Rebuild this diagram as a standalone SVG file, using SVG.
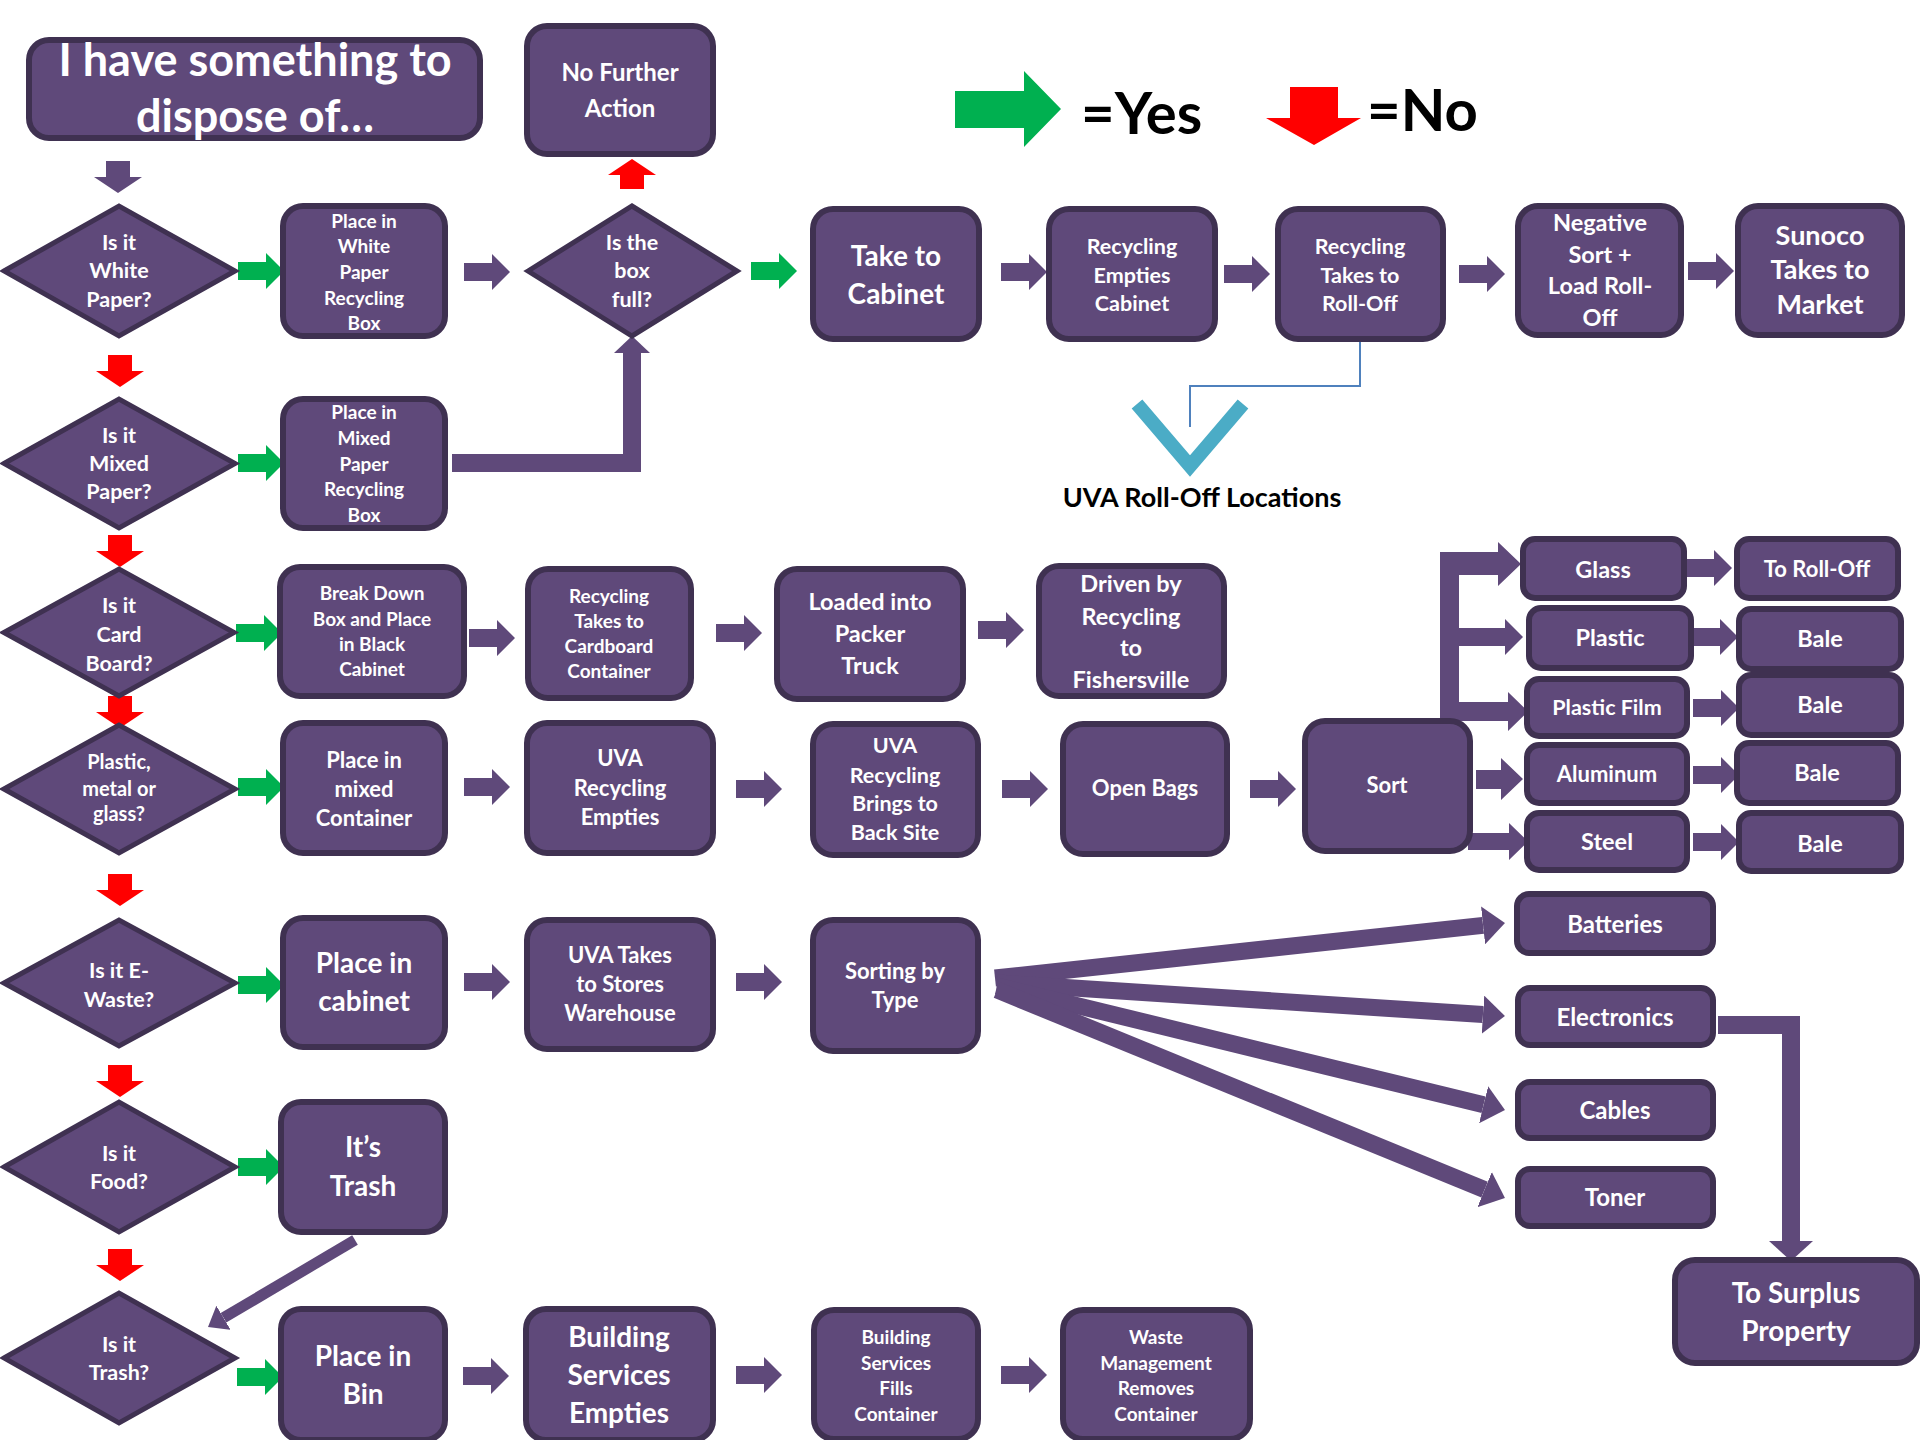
<svg xmlns="http://www.w3.org/2000/svg" xmlns:xlink="http://www.w3.org/1999/xlink" width="1920" height="1440" viewBox="0 0 1920 1440">
<style>
.box{fill:#5F497A;stroke:#3F3151;stroke-width:6}
.dia{fill:#5F497A;stroke:#3F3151;stroke-width:5}
.t{font-family:Lato,"Open Sans","Liberation Sans",sans-serif;font-weight:700;fill:#fff;text-anchor:middle}
.k{font-family:Lato,"Open Sans","Liberation Sans",sans-serif;font-weight:700;fill:#000}
.s19{font-size:19px}.s20{font-size:20px}.s21{font-size:21.5px}.s22{font-size:22px}.s23{font-size:23.5px}.s24{font-size:24px}.s27{font-size:27px}.s28{font-size:28px}
.ar{fill:#5F497A}
.gr{fill:#00B050}
.rd{fill:#FF0000}
.ln{fill:none;stroke:#5F497A}
</style>
<defs>
<path id="pa" d="M0,-9 H28 V-18 L46,0 L28,18 V9 H0 Z"/>
<path id="dn" d="M-12,0 V16 H-24 L0,32 L24,16 H12 V0 Z"/>
<marker id="fh" markerUnits="userSpaceOnUse" markerWidth="22" markerHeight="38" viewBox="0 0 22 38" refX="0" refY="19" orient="auto"><path d="M0,0 L22,19 L0,38 Z" fill="#5F497A"/></marker>
<marker id="th" markerUnits="userSpaceOnUse" markerWidth="18" markerHeight="28" viewBox="0 0 18 28" refX="0" refY="14" orient="auto"><path d="M0,0 L18,14 L0,28 Z" fill="#5F497A"/></marker>
</defs>
<rect width="1920" height="1440" fill="#fff"/>

<g id="legend">
<path class="gr" d="M955,91 H1024 V71 L1061,109 L1024,147 V128 H955 Z"/>
<text class="k" x="1081" y="134" font-size="58">=Yes</text>
<path class="rd" d="M1290,87 H1338 V118 H1361 L1314,145 L1266,118 H1290 Z"/>
<text class="k" x="1367" y="131" font-size="58">=No</text>
</g>

<g id="connectors">
<use href="#dn" x="118" y="161" class="ar"/>
<use href="#dn" x="120" y="355" class="rd"/>
<use href="#dn" x="120" y="535" class="rd"/>
<use href="#dn" x="120" y="696" class="rd"/>
<use href="#dn" x="120" y="874" class="rd"/>
<use href="#dn" x="120" y="1065" class="rd"/>
<use href="#dn" x="120" y="1249" class="rd"/>
<path class="rd" d="M620,189 V175 H608 L632,159 L656,175 H644 V189 Z"/>
<use href="#pa" x="238" y="271" class="gr"/>
<use href="#pa" x="238" y="463" class="gr"/>
<use href="#pa" x="236" y="633" class="gr"/>
<use href="#pa" x="238" y="787" class="gr"/>
<use href="#pa" x="238" y="985" class="gr"/>
<use href="#pa" x="238" y="1167" class="gr"/>
<use href="#pa" x="237" y="1377" class="gr"/>
<use href="#pa" x="751" y="271" class="gr"/>
<use href="#pa" x="464" y="272" class="ar"/>
<use href="#pa" x="1001" y="272" class="ar"/>
<use href="#pa" x="1224" y="274" class="ar"/>
<use href="#pa" x="1459" y="274" class="ar"/>
<use href="#pa" x="1688" y="271" class="ar"/>
<use href="#pa" x="469" y="638" class="ar"/>
<use href="#pa" x="716" y="633" class="ar"/>
<use href="#pa" x="978" y="630" class="ar"/>
<use href="#pa" x="464" y="787" class="ar"/>
<use href="#pa" x="736" y="789" class="ar"/>
<use href="#pa" x="1002" y="789" class="ar"/>
<use href="#pa" x="1250" y="789" class="ar"/>
<use href="#pa" x="464" y="982" class="ar"/>
<use href="#pa" x="736" y="982" class="ar"/>
<use href="#pa" x="463" y="1376" class="ar"/>
<use href="#pa" x="736" y="1375" class="ar"/>
<use href="#pa" x="1001" y="1375" class="ar"/>
<use href="#pa" x="1686" y="568" class="ar"/>
<use href="#pa" x="1692" y="637" class="ar"/>
<use href="#pa" x="1693" y="708" class="ar"/>
<use href="#pa" x="1693" y="775" class="ar"/>
<use href="#pa" x="1693" y="842" class="ar"/>
<path class="ln" stroke-width="18" d="M452,463 H632 V352"/>
<path class="ar" d="M614,353 L632,336 L650,353 Z"/>
<rect class="ar" x="1440" y="552" width="19" height="170"/>
<path class="ar" d="M1459,552 H1498 V542 L1521,564 L1498,586 V575 H1459 Z"/>
<path class="ar" d="M1459,628 H1505 V619 L1523,637 L1505,655 V646 H1459 Z"/>
<path class="ar" d="M1459,702 H1508 V692 L1528,711.5 L1508,731 V721 H1459 Z"/>
<path class="ar" d="M1476,770 H1501 V758 L1523,779 L1501,800 V789 H1476 Z"/>
<path class="ar" d="M1468,833 H1509 V823 L1528,841.5 L1509,860 V850 H1468 Z"/>
<line class="ln" stroke-width="17" x1="995" y1="978" x2="1483.1" y2="925.4" marker-end="url(#fh)"/>
<line class="ln" stroke-width="17" x1="997" y1="983" x2="1483" y2="1014.6" marker-end="url(#fh)"/>
<line class="ln" stroke-width="17" x1="997" y1="986" x2="1483.6" y2="1104.8" marker-end="url(#fh)"/>
<line class="ln" stroke-width="17" x1="997" y1="990" x2="1484.6" y2="1189.7" marker-end="url(#fh)"/>
<path class="ln" stroke-width="18" d="M1718,1025 H1791 V1242"/>
<path class="ar" d="M1769,1241 L1813,1241 L1791,1261 Z"/>
<line class="ln" stroke-width="11" x1="355" y1="1240" x2="223.5" y2="1317.8" marker-end="url(#th)"/>
<path fill="none" stroke="#4F81BD" stroke-width="2" d="M1360,338 V386 H1190 V427"/>
<polyline fill="none" stroke="#4BACC6" stroke-width="14" points="1137,404 1190,466 1243,404"/>
</g>

<g id="title"><rect class="box" x="29" y="40" width="451" height="98" rx="20"/>
<text class="t" font-size="45" x="255" y="76">I have something to</text>
<text class="t" font-size="45" x="255" y="132">dispose of…</text></g>

<g id="no-further"><rect class="box" x="527" y="26" width="186" height="128" rx="20"/>
<text class="t s24" x="620" y="81">No Further</text><text class="t s24" x="620" y="117">Action</text></g>

<g id="d-white"><polygon class="dia" points="4,271 119,206 235,271 119,336"/>
<text class="t s21" x="119" y="250">Is it</text><text class="t s21" x="119" y="278">White</text><text class="t s21" x="119" y="307">Paper?</text></g>

<g id="white-box"><rect class="box" x="283" y="206" width="162" height="130" rx="20"/>
<text class="t s19" x="364" y="228">Place in</text><text class="t s19" x="364" y="253">White</text><text class="t s19" x="364" y="279">Paper</text><text class="t s19" x="364" y="305">Recycling</text><text class="t s19" x="364" y="330">Box</text></g>

<g id="d-full"><polygon class="dia" points="528,271 632,206 737,271 632,336"/>
<text class="t s21" x="632" y="250">Is the</text><text class="t s21" x="632" y="278">box</text><text class="t s21" x="632" y="307">full?</text></g>

<g id="take-cabinet"><rect class="box" x="813" y="209" width="166" height="130" rx="20"/>
<text class="t s28" x="896" y="266">Take to</text><text class="t s28" x="896" y="304">Cabinet</text></g>

<g id="empties-cabinet"><rect class="box" x="1049" y="209" width="166" height="130" rx="20"/>
<text class="t s21" x="1132" y="254">Recycling</text><text class="t s21" x="1132" y="283">Empties</text><text class="t s21" x="1132" y="311">Cabinet</text></g>

<g id="takes-rolloff"><rect class="box" x="1278" y="209" width="165" height="130" rx="20"/>
<text class="t s21" x="1360" y="254">Recycling</text><text class="t s21" x="1360" y="283">Takes to</text><text class="t s21" x="1360" y="311">Roll-Off</text></g>

<g id="negative-sort"><rect class="box" x="1518" y="206" width="163" height="129" rx="20"/>
<text class="t s23" x="1600" y="231">Negative</text><text class="t s23" x="1600" y="263">Sort +</text><text class="t s23" x="1600" y="294">Load Roll-</text><text class="t s23" x="1600" y="326">Off</text></g>

<g id="sunoco"><rect class="box" x="1738" y="206" width="164" height="129" rx="20"/>
<text class="t s27" x="1820" y="245">Sunoco</text><text class="t s27" x="1820" y="279">Takes to</text><text class="t s27" x="1820" y="314">Market</text></g>

<g id="rolloff-locations"><text class="k" font-size="27" text-anchor="middle" x="1202" y="507">UVA Roll-Off Locations</text></g>

<g id="d-mixed"><polygon class="dia" points="4,463.5 119,399 235,463.5 119,528"/>
<text class="t s21" x="119" y="443">Is it</text><text class="t s21" x="119" y="471">Mixed</text><text class="t s21" x="119" y="499">Paper?</text></g>

<g id="mixed-box"><rect class="box" x="283" y="399" width="162" height="129" rx="20"/>
<text class="t s19" x="364" y="419">Place in</text><text class="t s19" x="364" y="445">Mixed</text><text class="t s19" x="364" y="471">Paper</text><text class="t s19" x="364" y="496">Recycling</text><text class="t s19" x="364" y="522">Box</text></g>

<g id="d-card"><polygon class="dia" points="4,632.5 119,569 234,632.5 119,696"/>
<text class="t s21" x="119" y="613">Is it</text><text class="t s21" x="119" y="642">Card</text><text class="t s21" x="119" y="671">Board?</text></g>

<g id="break-down"><rect class="box" x="280" y="567" width="184" height="129" rx="20"/>
<text class="t s19" x="372" y="600">Break Down</text><text class="t s19" x="372" y="626">Box and Place</text><text class="t s19" x="372" y="651">in Black</text><text class="t s19" x="372" y="676">Cabinet</text></g>

<g id="cardboard-container"><rect class="box" x="528" y="569" width="163" height="129" rx="20"/>
<text class="t s19" x="609" y="603">Recycling</text><text class="t s19" x="609" y="628">Takes to</text><text class="t s19" x="609" y="653">Cardboard</text><text class="t s19" x="609" y="678">Container</text></g>

<g id="packer-truck"><rect class="box" x="777" y="569" width="186" height="130" rx="20"/>
<text class="t s23" x="870" y="610">Loaded into</text><text class="t s23" x="870" y="642">Packer</text><text class="t s23" x="870" y="674">Truck</text></g>

<g id="fishersville"><rect class="box" x="1039" y="566" width="185" height="130" rx="20"/>
<text class="t s23" x="1131" y="592">Driven by</text><text class="t s23" x="1131" y="625">Recycling</text><text class="t s23" x="1131" y="656">to</text><text class="t s23" x="1131" y="688">Fishersville</text></g>

<g id="d-plastic"><polygon class="dia" points="4,789 119,725 235,789 119,853"/>
<text class="t s20" x="119" y="769">Plastic,</text><text class="t s20" x="119" y="796">metal or</text><text class="t s20" x="119" y="821">glass?</text></g>

<g id="mixed-container"><rect class="box" x="283" y="723" width="162" height="130" rx="20"/>
<text class="t s22" x="364" y="768">Place in</text><text class="t s22" x="364" y="797">mixed</text><text class="t s22" x="364" y="826">Container</text></g>

<g id="uva-empties"><rect class="box" x="527" y="723" width="186" height="130" rx="20"/>
<text class="t s22" x="620" y="766">UVA</text><text class="t s22" x="620" y="796">Recycling</text><text class="t s22" x="620" y="825">Empties</text></g>

<g id="back-site"><rect class="box" x="813" y="724" width="165" height="131" rx="20"/>
<text class="t s21" x="895" y="753">UVA</text><text class="t s21" x="895" y="783">Recycling</text><text class="t s21" x="895" y="811">Brings to</text><text class="t s21" x="895" y="840">Back Site</text></g>

<g id="open-bags"><rect class="box" x="1063" y="724" width="164" height="130" rx="20"/>
<text class="t s22" x="1145" y="796">Open Bags</text></g>

<g id="sort"><rect class="box" x="1305" y="721" width="165" height="130" rx="20"/>
<text class="t s22" x="1387" y="793">Sort</text></g>

<g id="glass"><rect class="box" x="1523" y="539" width="161" height="59" rx="12"/><text class="t s23" x="1603" y="578">Glass</text></g>
<g id="to-rolloff"><rect class="box" x="1737" y="539" width="161" height="59" rx="12"/><text class="t s22" x="1817" y="577">To Roll-Off</text></g>
<g id="plastic"><rect class="box" x="1529" y="608" width="162" height="60" rx="12"/><text class="t s23" x="1610" y="646">Plastic</text></g>
<g id="bale1"><rect class="box" x="1739" y="609" width="162" height="60" rx="12"/><text class="t s23" x="1820" y="647">Bale</text></g>
<g id="plastic-film"><rect class="box" x="1527" y="679" width="160" height="57" rx="12"/><text class="t s21" x="1607" y="715">Plastic Film</text></g>
<g id="bale2"><rect class="box" x="1739" y="675" width="162" height="60" rx="12"/><text class="t s23" x="1820" y="713">Bale</text></g>
<g id="aluminum"><rect class="box" x="1527" y="745" width="160" height="58" rx="12"/><text class="t s22" x="1607" y="782">Aluminum</text></g>
<g id="bale3"><rect class="box" x="1737" y="743" width="161" height="60" rx="12"/><text class="t s23" x="1817" y="781">Bale</text></g>
<g id="steel"><rect class="box" x="1527" y="813" width="160" height="57" rx="12"/><text class="t s23" x="1607" y="850">Steel</text></g>
<g id="bale4"><rect class="box" x="1739" y="813" width="162" height="58" rx="12"/><text class="t s23" x="1820" y="852">Bale</text></g>

<g id="d-ewaste"><polygon class="dia" points="4,983 119,920 235,983 119,1046"/>
<text class="t s21" x="119" y="978">Is it E-</text><text class="t s21" x="119" y="1007">Waste?</text></g>

<g id="place-cabinet"><rect class="box" x="283" y="918" width="162" height="129" rx="20"/>
<text class="t s28" x="364" y="973">Place in</text><text class="t s28" x="364" y="1011">cabinet</text></g>

<g id="stores-warehouse"><rect class="box" x="527" y="920" width="186" height="129" rx="20"/>
<text class="t s22" x="620" y="963">UVA Takes</text><text class="t s22" x="620" y="992">to Stores</text><text class="t s22" x="620" y="1021">Warehouse</text></g>

<g id="sorting-type"><rect class="box" x="813" y="920" width="165" height="131" rx="20"/>
<text class="t s22" x="895" y="979">Sorting by</text><text class="t s22" x="895" y="1008">Type</text></g>

<g id="batteries"><rect class="box" x="1517" y="894" width="196" height="59" rx="12"/><text class="t s24" x="1615" y="933">Batteries</text></g>
<g id="electronics"><rect class="box" x="1518" y="988" width="195" height="57" rx="12"/><text class="t s24" x="1615" y="1026">Electronics</text></g>
<g id="cables"><rect class="box" x="1518" y="1082" width="195" height="56" rx="12"/><text class="t s24" x="1615" y="1119">Cables</text></g>
<g id="toner"><rect class="box" x="1518" y="1169" width="195" height="57" rx="12"/><text class="t s24" x="1615" y="1206">Toner</text></g>

<g id="surplus"><rect class="box" x="1675" y="1260" width="242" height="103" rx="20"/>
<text class="t s28" x="1796" y="1303">To Surplus</text><text class="t s28" x="1796" y="1341">Property</text></g>

<g id="d-food"><polygon class="dia" points="4,1167 119,1102 235,1167 119,1232"/>
<text class="t s21" x="119" y="1161">Is it</text><text class="t s21" x="119" y="1189">Food?</text></g>

<g id="its-trash"><rect class="box" x="281" y="1102" width="164" height="130" rx="20"/>
<text class="t s28" x="363" y="1157">It’s</text><text class="t s28" x="363" y="1196">Trash</text></g>

<g id="d-trash"><polygon class="dia" points="4,1358 119,1293 235,1358 119,1423"/>
<text class="t s21" x="119" y="1352">Is it</text><text class="t s21" x="119" y="1380">Trash?</text></g>

<g id="place-bin"><rect class="box" x="281" y="1309" width="164" height="131" rx="20"/>
<text class="t s28" x="363" y="1366">Place in</text><text class="t s28" x="363" y="1404">Bin</text></g>

<g id="bs-empties"><rect class="box" x="526" y="1309" width="187" height="131" rx="20"/>
<text class="t s28" x="619" y="1347">Building</text><text class="t s28" x="619" y="1385">Services</text><text class="t s28" x="619" y="1423">Empties</text></g>

<g id="bs-fills"><rect class="box" x="814" y="1310" width="164" height="129" rx="20"/>
<text class="t s19" x="896" y="1344">Building</text><text class="t s19" x="896" y="1370">Services</text><text class="t s19" x="896" y="1395">Fills</text><text class="t s19" x="896" y="1421">Container</text></g>

<g id="waste-management"><rect class="box" x="1063" y="1310" width="187" height="129" rx="20"/>
<text class="t s19" x="1156" y="1344">Waste</text><text class="t s19" x="1156" y="1370">Management</text><text class="t s19" x="1156" y="1395">Removes</text><text class="t s19" x="1156" y="1421">Container</text></g>
</svg>
